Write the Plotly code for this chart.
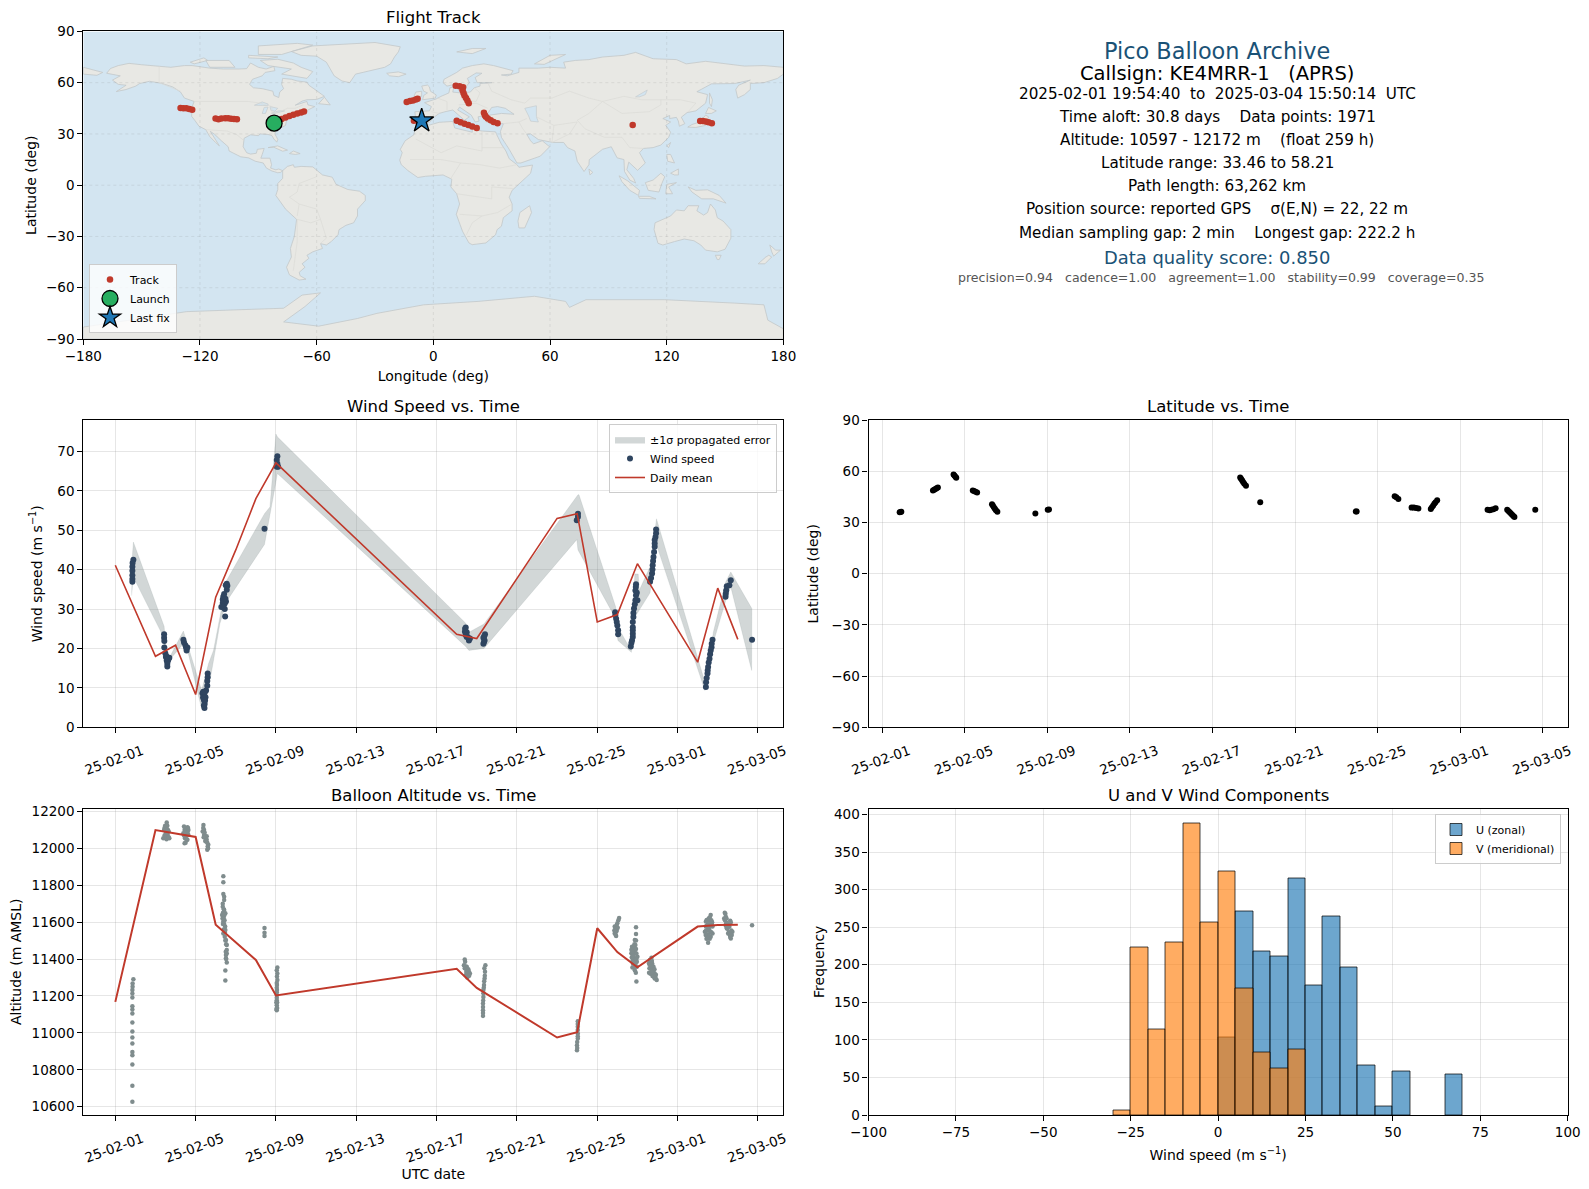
import pandas as pd
import plotly.graph_objects as go

W, H = 1589, 1189

# flight track (deg)
track_lon = [-130, -128.5, -127, -125.5, -124, -112, -110.5, -109, -107, -105.5, -104, -102.5, -101,
             -81.9, -80, -78, -76, -74, -72, -70, -68, -66.5,
             -13.7, -12, -10.5, -9, -8.1, 11.5, 13.5, 15.3, 15, 15.5, 16, 16.8, 17.5, 18.2,
             12, 14, 16, 18, 20, 22.3, 26, 26.5, 27, 28, 29.5, 31, 33,
             102.5, 137.2, 138.5, 140, 141.5, 143.2, -10, -8, -6]
track_lat = [45.2, 45.1, 45, 44.6, 44.2, 39, 38.6, 39, 39.2, 39.2, 38.9, 38.7, 38.6,
             36.3, 37.5, 38.8, 39.6, 40.5, 41.2, 42, 42.6, 43.2,
             48.7, 49.2, 49.6, 50.2, 50.6, 58.2, 57.9, 57.3, 55.5, 54, 52.5, 51, 49.5, 48,
             37.7, 36.9, 36, 35.2, 34.3, 33.4, 42.4, 41, 40, 39, 38, 37, 36.3,
             35.2, 37.5, 37.5, 37.3, 36.8, 36.2, 37.7, 37.7, 37.7]
launch_lon, launch_lat = [-81.9], [36.3]
last_lon, last_lat = [-6], [37.7]

# coastlines, rough (lon, lat)
north_america = [(-168, 65.5), (-166, 68.3), (-162, 70), (-156.5, 71.3), (-150, 70.5), (-141, 69.7), (-135, 69), (-128, 70),
                 (-124, 70), (-115, 68.5), (-108, 68), (-100, 68), (-96, 68.2), (-94, 71.5), (-90, 69), (-86, 68), (-82, 69.5),
                 (-81.5, 67), (-86.5, 66), (-88, 64), (-93, 62), (-94.5, 59), (-92.5, 57), (-88, 56.5), (-82.5, 55), (-82, 52.5),
                 (-79.5, 51.3), (-79, 54.5), (-77, 56.5), (-78, 59), (-77.5, 62.5), (-73, 62), (-70, 61), (-65, 60.3), (-64, 58.5),
                 (-61.5, 56.5), (-57, 53), (-56, 52), (-60, 50.2), (-65, 50), (-67.5, 49.2), (-71, 46.8), (-65, 49), (-64.5, 47),
                 (-61, 46), (-65, 43.7), (-70, 43.7), (-70.5, 41.7), (-74, 40.5), (-75.5, 38), (-76, 35), (-78, 33.8), (-81, 32),
                 (-81.5, 30), (-80, 26.8), (-80.5, 25.2), (-82, 27), (-83, 29), (-85, 29.7), (-89, 30), (-90, 29), (-94, 29.5),
                 (-97.3, 27.5), (-97.8, 22.5), (-96, 19), (-94, 18.2), (-91, 18.7), (-90.5, 21), (-87, 21.5), (-88, 18),
                 (-88.7, 15.8), (-84, 15.8), (-83.2, 12), (-83.7, 10), (-81, 9), (-79.5, 9.5), (-77.5, 8.5), (-78.5, 7.5), (-80, 7.3),
                 (-83, 8.3), (-85.8, 10), (-87.5, 13), (-91.5, 14), (-95, 16), (-99, 16.6), (-105, 20), (-105.5, 22.5), (-109, 26),
                 (-112.5, 29.8), (-114.7, 31.5), (-112, 27), (-110, 23), (-112, 25), (-115, 28.5), (-117, 32.5), (-120.5, 34.5),
                 (-122.5, 37.7), (-124.3, 40.3), (-124, 46), (-123, 49), (-128, 51), (-130, 54.5), (-134, 57.5), (-140, 59.7),
                 (-146, 60.8), (-151, 59.5), (-153, 58), (-158, 56), (-163, 54.8), (-158, 58.5), (-162, 59), (-165, 61.5), (-161, 64)]
greenland = [(-73, 78.2), (-68, 76), (-60, 75.5), (-55, 72), (-53, 68), (-51, 64), (-47, 61), (-43, 60), (-40, 65), (-34, 66.5),
             (-25, 69), (-22, 71), (-20, 75), (-18, 78), (-17, 81), (-30, 83.5), (-50, 82.5), (-62, 81.5)]
south_america = [(-77.5, 8.5), (-75, 11), (-72, 12), (-71.5, 10.5), (-68, 11), (-62, 10.7), (-57, 6), (-52, 4.7), (-50, 0.5), (-44, -2.5),
                 (-38, -3.5), (-35, -6), (-35, -9), (-39, -14), (-39, -18), (-41, -22), (-45, -23.5), (-48.5, -26), (-49, -29),
                 (-52.5, -33), (-55, -35), (-58, -34.2), (-57, -37), (-62, -39), (-65, -41), (-64, -42.8), (-67.5, -46), (-66, -48),
                 (-69, -51), (-68.5, -53), (-65.5, -55), (-69, -55.5), (-74, -52.5), (-75.5, -48), (-73, -42), (-73.5, -37),
                 (-71.5, -30), (-70.3, -20), (-76, -14), (-81, -6), (-80, -2.5), (-80, 1), (-77.5, 4), (-77.5, 7)]
africa = [(-6, 35.8), (-2, 35.2), (3, 36.8), (10, 37.3), (11, 33.5), (15, 32.3), (20, 31), (20, 32.8), (25, 31.7), (32, 31.2), (32.5, 29.8),
          (35, 24), (37.3, 20), (39, 15.5), (43, 12), (44, 10.5), (51, 11.8), (50, 7), (44, 1), (40.5, -3), (39, -7), (40.5, -11),
          (40.5, -15), (36, -19), (35, -24), (32.8, -26), (32, -29), (27, -33.8), (20, -34.8), (18.3, -33.8), (15, -27), (11.8, -17),
          (13.5, -11), (12, -5), (9, -1), (9.5, 3.5), (5, 6), (1, 5.8), (-4, 5.2), (-8, 4.5), (-13, 8.5), (-16.5, 12), (-17.3, 14.7),
          (-16, 19), (-17, 21), (-14.5, 26), (-10, 29.5), (-9.5, 33)]
eurasia = [(-9, 37), (-9.5, 43), (-2, 43.5), (-1, 46), (-4.5, 48.3), (1.5, 50.5), (4, 52), (8, 54), (8.5, 57), (10.5, 57.5), (10, 54.5),
           (14, 54), (19, 54.5), (21, 57), (24, 58), (24, 59.5), (30, 60), (22.5, 60), (21.5, 63), (25, 65.5), (22, 65.7), (17.5, 62.5),
           (18.5, 60), (16, 56.5), (13, 55.5), (11, 59), (7, 58), (5, 60), (5.5, 62), (12, 66), (15, 68.5), (20, 70), (26, 71), (31, 70),
           (41, 67), (40, 65), (35, 64.5), (38, 64), (44, 66), (44, 68.5), (54, 68.5), (60, 69), (68, 68.5), (67, 72), (73, 73),
           (80, 73.5), (87, 75), (98, 76), (104, 77.7), (113, 74), (125, 73.5), (130, 71), (140, 72.5), (152, 71), (160, 69.7), (170, 70),
           (180, 69), (180, 65), (177, 62.5), (170, 60), (163, 59.5), (163, 56), (160, 53), (156.5, 51), (155.5, 56), (157, 58.5),
           (163, 61.5), (155, 59.5), (143, 59.3), (135.5, 54.7), (141, 53), (140, 48), (135, 43.5), (130.5, 42.5), (127.5, 39.8),
           (129.3, 36), (126.5, 34.5), (126, 37.5), (125, 39.7), (121.5, 39), (121.5, 40.8), (118, 39), (122, 37), (119.5, 35), (122, 31),
           (121, 28), (117, 23.5), (113, 22), (108, 21.5), (106, 19), (109, 13), (105, 8.7), (100.5, 13.5), (99.5, 9), (103, 4), (104, 1.3),
           (101, 3), (98.3, 8), (98, 15), (94.5, 16), (91.5, 22.5), (87, 21), (80.2, 15), (80, 12), (77.5, 8), (74, 14), (72.8, 20), (69, 22),
           (67, 25), (61.5, 25), (57, 26), (54, 26.7), (50, 30), (48, 29.8), (50, 26), (51.5, 24.2), (56, 26), (59.8, 22.5), (55, 17),
           (45, 13), (43, 13), (39, 21), (35, 28), (34.5, 31.5), (36, 36), (32, 36), (27.5, 36.8), (26.5, 39.5), (29, 41), (35, 42),
           (41.5, 41.5), (37, 45), (33, 46), (30, 45.5), (28, 42), (26, 40.7), (23, 40), (23.5, 37.5), (21.5, 37), (19.5, 41), (13.5, 45.7),
           (12.5, 44), (16, 41.7), (18.5, 40), (16, 38), (12.5, 41.5), (10, 44), (6, 43), (3, 42), (0, 39.5), (-2, 36.8), (-5.5, 36)]
chukotka = [(-180, 69), (-175, 67.5), (-170, 66), (-173, 64.3), (-180, 65)]
australia = [(114, -22), (113.5, -26), (115.5, -34), (118, -35), (124, -33), (129, -31.5), (134, -32.5), (137.5, -35), (140, -38), (146, -39),
             (150, -37.5), (153, -31), (153, -26), (149, -21), (146, -19), (145, -14.5), (142.5, -11), (141, -16), (139, -17.5), (135.5, -15),
             (136.5, -12), (131, -12), (129, -15), (125, -14.5), (122, -18)]
antarctica = [(-180, -83), (-127, -74), (-103, -73), (-77, -72), (-67.5, -64.3), (-58, -63), (-66, -71), (-77, -80), (-59, -82.5), (-39, -78),
              (-29, -75), (-5, -70), (23, -68), (52, -65), (68, -68), (70, -71.5), (78.5, -67), (119, -67), (155, -69), (170, -70), (172, -79),
              (180, -84), (180, -90), (-180, -90)]
islands = [
    [(-80, 73.7), (-72, 71.5), (-68, 69), (-62, 66.5), (-65, 62.5), (-72, 64), (-78, 65), (-73, 68), (-85, 70), (-89, 73)],
    [(-117, 73), (-105, 73), (-102, 69), (-115, 69)],
    [(-90, 76.5), (-78, 76.5), (-62, 82), (-70, 83), (-90, 81.5)],
    [(-125, 72), (-118, 74.5), (-116, 73), (-123, 71)],
    [(-95, 76), (-80, 75), (-85, 74), (-95, 74.5)],
    [(-59, 47.7), (-56, 51.5), (-53, 47)],
    [(-85, 22), (-80, 23), (-75, 20.5), (-77.5, 19.9), (-82, 22.2)],
    [(-74, 18.5), (-72, 20), (-68.5, 18.5), (-71, 18)],
    [(-5.5, 50), (1, 51), (1.5, 52.8), (-1.5, 55), (-2, 57.5), (-3, 58.6), (-6, 58), (-5, 55), (-3, 54), (-5, 52.5)],
    [(-10, 52), (-6, 52), (-6, 55), (-9, 54.5)],
    [(-24, 65.5), (-18, 66.3), (-14, 65), (-18, 63.5), (-22.5, 64)],
    [(12, 78), (20, 80), (27, 80), (20, 77)],
    [(52, 71), (57, 70.7), (68, 76.5), (60, 76)],
    [(142, 54), (143.5, 50), (143, 46), (142, 48)],
    [(130.8, 34), (135, 33.8), (140, 35), (141.5, 40), (140, 41), (137, 37), (133, 35.5)],
    [(140, 42), (141.5, 45.5), (145.5, 43.5), (143, 42)],
    [(120, 23), (122, 25), (121, 22)],
    [(120, 18), (122, 18), (124, 13), (120.5, 14)],
    [(122, 7), (126, 9.5), (126, 6), (124, 6)],
    [(95.5, 5.5), (100, 2.5), (106, -3), (105.5, -6), (101, -3), (97, 2)],
    [(105.5, -6.5), (111, -6.5), (114.5, -8), (106, -7.7)],
    [(109, 1.5), (113, 3), (117, 7), (119, 5), (117.5, 1), (116, -4), (110.5, -3)],
    [(119.5, -5), (120, 0.5), (125, 1.5), (121, -1), (123, -5)],
    [(131, -1), (135, -3), (141, -2.7), (147, -6), (150.5, -10.5), (144, -8), (138, -8), (133, -4)],
    [(145, -41), (148, -41), (147, -43.5), (146, -43.5)],
    [(173, -35), (176, -38), (178.5, -38), (175, -41.5), (174, -39)],
    [(172.5, -41), (174, -42), (170.5, -46), (167, -46), (171, -42)],
    [(49.5, -12), (50.5, -16), (47, -25), (44, -25), (43.5, -21), (44.5, -16)],
    [(80, 9.5), (82, 7.5), (80.5, 6)],
]
lakes = [
    [(47, 45), (53, 46.5), (53, 40), (54, 37), (50, 37.5), (49, 40.5)],
    [(-92, 46.8), (-88, 48.7), (-85, 47.5), (-85, 46.6), (-88, 46.7)],
    [(-88, 42), (-87, 45.5), (-85, 45.7), (-86.3, 42)],
    [(-84, 46), (-80, 45), (-81.5, 43.3), (-83.5, 43.7)],
    [(-83, 41.7), (-79, 42.8), (-76.5, 43.5), (-79.5, 43.5), (-83, 42.3)],
    [(104, 51.7), (110, 55.7), (109, 53), (106, 51.7)],
]
borders = [
    [(-123, 49), (-95, 49), (-89, 48), (-83, 46), (-83, 42), (-79, 43), (-75, 45), (-71, 45), (-67, 47)],
    [(-141, 69.7), (-141, 60), (-130, 55)],
    [(-117, 32.5), (-106, 31.7), (-101, 29.5), (-97.3, 26)],
    [(-70, -18), (-69, -11), (-74, -7), (-70, -4), (-69, 1), (-60, 5)],
    [(-70, -20), (-70, -33), (-72, -50)],
    [(-58, -20), (-55, -31), (-58, -34)],
    [(-69, -11), (-60, -14), (-58, -20), (-63, -22), (-70, -20)],
    [(-9, 27), (4, 19), (12, 23), (25, 20), (25, 31.7)],
    [(25, 22), (36, 22)],
    [(-12, 15), (4, 15), (14, 13), (24, 12), (34, 10), (43, 12)],
    [(9, 4), (14, 13)],
    [(12, -5), (30, -8), (30, -1), (41, -2)],
    [(13.5, -17), (25, -18), (33, -16), (40.5, -11)],
    [(17, -29), (20, -22), (25, -18)],
    [(28, 60), (30, 55), (40, 50), (47, 48), (50, 51), (61, 51), (70, 55), (80, 51), (87, 49)],
    [(87, 49), (98, 52), (107, 50), (117, 50), (127, 50), (135, 48), (131, 43)],
    [(87, 49), (80, 42), (74, 38), (78, 33), (88, 28), (97, 28), (101, 22), (108, 21.5)],
    [(87, 49), (97, 42), (111, 43), (117, 47), (117, 50)],
    [(53, 40), (62, 35), (61, 25)],
    [(44, 37), (46, 33), (48, 30)],
    [(36, 36), (44, 37), (48, 39)],
    [(62, 35), (74, 37)],
    [(61, 25), (70, 30), (74, 37)],
    [(14, 54), (15, 50), (22, 49), (24, 54), (21, 57)],
    [(-1, 43), (3, 42)],
    [(2, 51), (7, 49), (7, 44)],
    [(13, 47), (22, 48), (28, 45)],
]
map_xticks = [-180, -120, -60, 0, 60, 120, 180]
map_yticks = [-90, -60, -30, 0, 30, 60, 90]

# wind speed, days after 2025-02-01 / m s-1
wind_days = [0.90, 0.86, 0.85, 0.85, 0.85, 0.85, 0.85,
             2.43, 2.43, 2.44, 2.44, 2.49, 2.52, 2.69, 2.56, 2.59, 2.59, 2.62, 2.55, 2.60, 2.65,
             3.39, 3.42, 3.49, 3.52, 3.59, 3.55,
             4.60, 4.60, 4.58, 4.58, 4.52, 4.34, 4.42, 4.37, 4.49, 4.42, 4.45, 4.44, 4.38, 4.46, 4.40, 4.47, 4.41,
             5.55, 5.58, 5.55, 5.38, 5.35, 5.51, 5.35, 5.28, 5.45, 5.45, 5.47, 5.40, 5.38, 5.48, 5.42, 5.50,
             7.43, 8.07, 8.04, 8.07, 8.04, 8.11,
             17.45, 17.41, 17.50, 17.50, 17.61, 17.66, 17.45, 17.55, 17.42,
             18.41, 18.33, 18.39, 18.33, 18.37, 18.36,
             23.04, 23.04, 22.98,
             24.89, 24.90, 24.94, 24.97, 25.00, 25.04, 25.04,
             25.67, 25.70, 25.73, 25.77, 25.77, 25.77, 25.77, 25.77, 25.80, 25.80, 25.83, 25.87, 25.90, 26.00, 25.93, 25.97, 25.90, 25.92, 25.93,
             26.63, 26.68, 26.73, 26.75, 26.76, 26.78, 26.80, 26.83, 26.86, 26.86, 26.86, 26.90, 26.93, 26.93,
             29.41, 29.42, 29.45, 29.49, 29.50, 29.52, 29.55, 29.59, 29.62, 29.65, 29.69, 29.70, 29.74,
             30.39, 30.40, 30.42, 30.45, 30.58, 30.65, 31.71]
wind_speed = [42.5, 41.7, 40.7, 39.7, 38.6, 37.6, 36.9,
              23.6, 22.7, 21.9, 20.2, 18.8, 17.8, 17.6, 16.9, 16.1, 15.4, 17.0, 18.0, 16.7, 17.3,
              22.2, 21.5, 20.8, 20.2, 20.2, 19.5,
              13.6, 12.7, 11.7, 10.5, 9.3, 8.6, 8.5, 7.6, 7.6, 6.8, 5.9, 4.9, 9.0, 9.0, 7.2, 6.8, 5.5,
              36.4, 35.9, 34.9, 33.2, 32.4, 31.9, 31.5, 30.5, 31.4, 30.0, 28.1, 31.8, 30.6, 32.6, 33.8, 36.0,
              50.4, 68.8, 67.8, 66.9, 66.1, 66.1,
              25.3, 24.2, 24.1, 22.9, 22.0, 22.5, 23.4, 22.9, 25.0,
              23.6, 22.7, 22.0, 21.2, 23.1, 21.6,
              54.2, 53.4, 52.5,
              29.2, 28.4, 27.5, 26.7, 25.8, 24.6, 23.6,
              20.5, 21.4, 22.0, 22.9, 23.7, 24.6, 25.4, 26.7, 28.0, 29.0, 30.1, 31.2, 32.2, 32.2, 33.5, 34.1, 34.7, 35.6, 36.3,
              36.9, 37.9, 39.0, 40.0, 41.1, 42.2, 43.2, 44.5, 45.8, 46.6, 47.5, 48.3, 49.2, 50.2,
              10.2, 11.4, 12.5, 13.6, 14.4, 15.3, 16.4, 17.4, 18.5, 19.5, 20.3, 21.2, 22.2,
              33.1, 33.9, 34.7, 35.8, 36.0, 37.3, 22.2]
# +/-1 sigma band edges
band_up_days = [0.81, 0.90, 2.43, 2.56, 2.69, 3.39, 3.64, 4.05, 4.30, 4.64, 4.89, 5.21, 5.55, 7.43, 7.70, 8.0, 8.07,
                17.45, 17.61, 18.36, 22.0, 23.04, 23.09, 24.92, 25.03, 25.50, 25.63, 25.74, 25.87, 26.04, 26.09, 26.66, 26.95,
                29.41, 29.57, 29.78, 30.40, 30.65, 31.70]
band_up = [40.7, 47.0, 25.6, 18.6, 17.6, 24.4, 20.3, 13.5, 9.3, 16.1, 19.5, 28.0, 37.3, 54.2, 55.9, 74.4, 73.7,
           26.4, 24.1, 26.2, 51.6, 59.0, 59.0, 30.5, 25.4, 21.2, 20.8, 23.7, 38.9, 38.9, 34.7, 41.1, 52.9,
           10.6, 16.1, 24.1, 36.9, 39.4, 30.1]
band_lo_days = [0.81, 0.90, 2.39, 2.53, 2.69, 3.39, 3.64, 4.30, 4.57, 5.21, 5.55, 7.43, 7.97, 8.07,
                17.45, 17.61, 18.36, 22.98, 23.04, 24.87, 25.03, 25.70, 25.87, 26.04, 26.63, 26.80, 26.93,
                29.25, 29.36, 29.62, 29.84, 30.40, 30.65, 31.69]
band_lo = [33.4, 38.1, 23.0, 15.3, 17.0, 21.2, 18.6, 4.6, 7.6, 26.3, 32.0, 46.4, 61.4, 64.4,
           20.5, 19.5, 20.0, 47.6, 45.0, 28.0, 22.0, 19.0, 28.0, 29.3, 34.1, 41.1, 46.6,
           11.0, 9.3, 16.1, 22.5, 32.2, 35.6, 14.4]
# daily mean, shared days
mean_days = [0, 2, 3, 4, 5, 6, 7, 8, 17, 18, 22, 23, 24, 25, 26, 29, 30, 31]
mean_wind = [41.1, 18.0, 20.8, 8.3, 33.0, 45.0, 58.0, 67.1, 23.6, 22.5, 53.0, 54.2, 26.7, 28.6, 41.5, 16.5, 35.3, 22.3]
mean_alt = [11168, 12099, 12080, 12062, 11586, 11490, 11395, 11203, 11347, 11244, 10975, 11004, 11567, 11438, 11355, 11576, 11585, 11586]

# latitude
lat_days = [0.85, 0.89, 0.93, 2.46, 2.52, 2.58, 2.64, 2.70, 3.46, 3.50, 3.55, 3.59, 4.39, 4.45, 4.52, 4.60,
            5.32, 5.36, 5.41, 5.46, 5.51, 5.58, 7.42, 8.02, 8.08, 17.34, 17.38, 17.43, 17.48, 17.54, 17.62, 18.31,
            22.94, 22.98, 24.82, 24.90, 25.00, 25.64, 25.75, 25.86, 25.97, 26.57, 26.62, 26.68, 26.74, 26.80, 26.88,
            29.32, 29.42, 29.50, 29.60, 29.71, 30.27, 30.33, 30.39, 30.45, 30.51, 30.57, 30.62, 31.63]
lat_values = [36.0, 36.2, 36.4, 48.8, 49.2, 49.7, 50.1, 50.6, 58.2, 57.6, 56.9, 56.3, 48.8, 48.6, 48.1, 47.6,
              40.8, 40.0, 39.0, 38.1, 37.3, 36.3, 35.3, 37.5, 37.7, 56.5, 55.7, 54.8, 53.8, 52.8, 51.6, 42.0,
              36.5, 36.5, 45.5, 44.8, 43.9, 38.8, 38.8, 38.6, 38.2, 38.0, 38.9, 39.9, 41.0, 42.0, 43.1,
              37.5, 37.3, 37.6, 37.9, 38.4, 37.6, 36.8, 36.1, 35.3, 34.6, 33.9, 33.3, 37.6]

# altitude
alt_days = [0.90, 0.86, 0.86, 0.85, 0.85, 0.85, 0.85, 0.85, 0.85, 0.85, 0.85, 0.85, 0.85, 0.85, 0.85, 0.85, 0.85, 0.85,
            2.56, 2.48, 2.43, 2.59, 2.39, 2.52, 2.69, 2.52, 2.66, 2.59,
            2.45, 2.50, 2.55, 2.60, 2.63, 2.45, 2.56, 2.48, 2.62, 2.55, 2.66,
            3.42, 3.59, 3.52, 3.39, 3.64, 3.47, 3.59, 3.45, 3.64,
            3.45, 3.50, 3.55, 3.42, 3.50, 3.60, 3.55, 3.47, 3.62, 3.50,
            4.39, 4.35, 4.47, 4.55, 4.63, 4.58, 4.42, 4.52,
            4.38, 4.42, 4.45, 4.50, 4.55, 4.58, 4.60, 4.40, 4.48, 4.62,
            5.38, 5.38, 5.38, 5.42, 5.35, 5.42, 5.32, 5.48, 5.38, 5.47, 5.38, 5.51, 5.55, 5.51, 5.55, 5.48, 5.48, 5.42, 5.38, 5.48, 5.45, 5.55, 5.51,
            5.35, 5.40, 5.36, 5.40, 5.34, 5.44, 5.36, 5.42, 5.40, 5.45, 5.48, 5.52, 5.55, 5.50, 5.52, 5.38, 5.44,
            7.43, 7.43, 7.43, 8.07, 8.07, 8.07, 8.05, 8.05, 8.04, 8.04, 8.04, 8.04,
            8.04, 8.05, 8.04, 8.04, 8.04, 8.04, 8.02, 8.06, 8.02, 8.06,
            17.40, 17.36, 17.50, 17.61, 17.45, 17.66, 17.53,
            17.42, 17.45, 17.50, 17.55, 17.58, 17.62, 17.40, 17.48,
            18.43, 18.41, 18.39, 18.36, 18.33, 18.33, 18.31, 18.31, 18.31,
            18.38, 18.40, 18.37, 18.35, 18.33, 18.32, 18.31, 18.31,
            23.03, 23.03, 23.03, 23.03, 22.99, 22.99,
            23.03, 23.03, 23.03, 23.00, 23.00,
            25.09, 25.00, 24.87, 24.97, 24.87, 24.94,
            25.05, 24.97, 24.90, 24.95, 24.92, 25.02, 24.85,
            25.93, 25.93, 25.87, 25.73, 25.87, 25.70, 26.00, 25.77, 25.97, 25.75, 25.92, 25.95, 25.80, 25.90, 25.83, 25.97,
            25.80, 25.85, 25.75, 25.95, 25.72, 25.82, 25.90, 25.95, 25.78, 25.90, 25.85, 25.78, 25.75, 25.87, 25.93, 25.93, 25.70, 25.85,
            26.70, 26.58, 26.80, 26.58, 26.86, 26.75, 26.96, 26.66, 26.86,
            26.62, 26.68, 26.74, 26.60, 26.72, 26.80, 26.85, 26.65, 26.75, 26.90, 26.92, 26.80, 26.72, 26.68, 26.60,
            29.65, 29.45, 29.62, 29.41, 29.74, 29.57, 29.36, 29.74, 29.49, 29.65, 29.52, 29.54, 29.41,
            29.50, 29.55, 29.60, 29.68, 29.45, 29.50, 29.60, 29.70, 29.42, 29.48, 29.55, 29.60, 29.68, 29.40, 29.72, 29.62, 29.44,
            30.35, 30.40, 30.62, 30.42, 30.45, 30.73, 30.52, 30.65, 30.32,
            30.38, 30.36, 30.44, 30.50, 30.40, 30.48, 30.58, 30.55, 30.60, 30.70, 30.68, 30.62, 30.45, 30.65, 31.71]
alt_values = [11290, 11268, 11250, 11232, 11214, 11192, 11145, 11127, 11105, 11056, 11007, 10975, 10942, 10897, 10879, 10828, 10714, 10627,
              12140, 12122, 12100, 12100, 12055, 12064, 12055, 12082, 12091, 12122,
              12110, 12095, 12110, 12075, 12060, 12070, 12125, 12060, 12100, 12050, 12060,
              12119, 12115, 12091, 12082, 12073, 12055, 12046, 12028, 12100,
              12100, 12110, 12075, 12070, 12060, 12085, 12045, 12085, 12110, 12030,
              12126, 12091, 12064, 12046, 12019, 11992, 12073, 12037,
              12110, 12100, 12085, 12055, 12065, 12030, 12010, 12060, 12040, 12000,
              11849, 11816, 11753, 11720, 11684, 11666, 11639, 11648, 11603, 11576, 11539, 11503, 11449, 11422, 11382, 11338, 11284, 11738, 11621, 11557, 11521, 11476, 11404,
              11700, 11670, 11650, 11630, 11620, 11610, 11590, 11590, 11560, 11545, 11500, 11480, 11430, 11440, 11400, 11650, 11640,
              11568, 11543, 11525, 11355, 11322, 11286, 11259, 11232, 11205, 11177, 11150, 11123,
              11340, 11305, 11270, 11245, 11220, 11190, 11165, 11135, 11130, 11165,
              11398, 11367, 11358, 11331, 11313, 11322, 11300,
              11385, 11360, 11340, 11320, 11345, 11310, 11350, 11330,
              11366, 11331, 11295, 11259, 11232, 11195, 11159, 11123, 11092,
              11350, 11310, 11280, 11245, 11215, 11175, 11140, 11108,
              11063, 11033, 10996, 10969, 10933, 10906,
              11048, 11015, 10982, 10950, 10918,
              11623, 11594, 11576, 11558, 11539, 11525,
              11610, 11585, 11565, 11550, 11530, 11570, 11555,
              11572, 11536, 11503, 11467, 11449, 11431, 11413, 11395, 11359, 11355, 11326, 11279, 11422, 11476, 11377, 11386,
              11460, 11440, 11440, 11430, 11410, 11410, 11400, 11400, 11375, 11375, 11355, 11420, 11385, 11340, 11500, 11455, 11450, 11480,
              11407, 11377, 11358, 11326, 11322, 11308, 11286, 11349, 11295,
              11395, 11385, 11375, 11350, 11340, 11335, 11345, 11320, 11330, 11300, 11315, 11305, 11390, 11360, 11370,
              11639, 11612, 11603, 11576, 11576, 11558, 11548, 11539, 11512, 11521, 11489, 11585, 11603,
              11600, 11620, 11625, 11610, 11580, 11560, 11575, 11590, 11555, 11535, 11530, 11510, 11545, 11530, 11600, 11550, 11510,
              11651, 11630, 11608, 11594, 11567, 11548, 11539, 11512, 11620,
              11645, 11610, 11620, 11590, 11580, 11565, 11575, 11545, 11530, 11530, 11555, 11520, 11595, 11600, 11583]

# histograms, 5 m/s bins
u_bin_starts = [0, 5, 10, 15, 20, 25, 30, 35, 40, 45, 50, 65]
u_counts = [103, 271, 217, 211, 315, 172, 264, 196, 66, 11, 58, 54]
v_bin_starts = [-30, -25, -20, -15, -10, -5, 0, 5, 10, 15, 20]
v_counts = [6, 223, 114, 230, 388, 256, 324, 168, 83, 62, 87]
bin_width = 5

# summary text
summary_lines = [
    ("Pico Balloon Archive", 1217, 50.7, 22.4, "#1a5276"),
    ("Callsign: KE4MRR-1   (APRS)", 1217, 73.0, 19.5, "#000000"),
    ("2025-02-01 19:54:40  to  2025-03-04 15:50:14  UTC", 1217, 94.2, 15.2, "#000000"),
    ("Time aloft: 30.8 days    Data points: 1971", 1217, 117.5, 15.2, "#000000"),
    ("Altitude: 10597 - 12172 m    (float 259 h)", 1217, 140.4, 15.2, "#000000"),
    ("Latitude range: 33.46 to 58.21", 1217, 163.2, 15.2, "#000000"),
    ("Path length: 63,262 km", 1217, 186.5, 15.2, "#000000"),
    ("Position source: reported GPS    σ(E,N) = 22, 22 m", 1217, 209.3, 15.2, "#000000"),
    ("Median sampling gap: 2 min    Longest gap: 222.2 h", 1217, 233.0, 15.2, "#000000"),
    ("Data quality score: 0.850", 1217, 257.4, 17.9, "#1a5276"),
    ("precision=0.94   cadence=1.00   agreement=1.00   stability=0.99   coverage=0.35", 1221, 277.7, 12.55, "#555555"),
]

RED = "#c0392b"
SLATE = "#2f4560"
GREY = "#7f8c8d"
FONT = "DejaVu Sans"
GRID = "rgba(128,128,128,0.2)"


def to_time(days):
    return pd.Timestamp("2025-02-01") + pd.to_timedelta(days, unit="D")


def closed_path(shapes):
    xs, ys = [], []
    for shape in shapes:
        xs += [p[0] for p in shape] + [shape[0][0], None]
        ys += [p[1] for p in shape] + [shape[0][1], None]
    return xs, ys


def open_path(lines):
    xs, ys = [], []
    for line in lines:
        xs += [p[0] for p in line] + [None]
        ys += [p[1] for p in line] + [None]
    return xs, ys


def dx(px):
    return px / W


def dy(py):
    return 1 - py / H


fig = go.Figure()

# map
fig.add_shape(type="rect", xref="x", yref="y", x0=-180, x1=180, y0=-90, y1=90,
              fillcolor="#d3e5f1", line_width=0, layer="below")
land_x, land_y = closed_path([north_america, greenland, south_america, africa, eurasia, chukotka,
                              australia, antarctica] + islands)
fig.add_trace(go.Scatter(x=land_x, y=land_y, mode="lines", fill="toself", fillcolor="#e8e8e4",
                         line=dict(color="#c3c8c9", width=0.8), showlegend=False, hoverinfo="skip",
                         xaxis="x", yaxis="y"))
lake_x, lake_y = closed_path(lakes)
fig.add_trace(go.Scatter(x=lake_x, y=lake_y, mode="lines", fill="toself", fillcolor="#d3e5f1",
                         line=dict(color="#c3c8c9", width=0.6), showlegend=False, hoverinfo="skip",
                         xaxis="x", yaxis="y"))
border_x, border_y = open_path(borders)
fig.add_trace(go.Scatter(x=border_x, y=border_y, mode="lines", line=dict(color="#dbdbd7", width=0.7),
                         showlegend=False, hoverinfo="skip", xaxis="x", yaxis="y"))
# grid sits on top of the land here
grid_lines = [[(t, -90), (t, 90)] for t in map_xticks[1:-1]] + [[(-180, t), (180, t)] for t in map_yticks[1:-1]]
grid_x, grid_y = open_path(grid_lines)
fig.add_trace(go.Scatter(x=grid_x, y=grid_y, mode="lines", line=dict(color="rgba(128,128,128,0.2)", width=0.8, dash="dot"),
                         showlegend=False, hoverinfo="skip", xaxis="x", yaxis="y"))
fig.add_trace(go.Scatter(x=track_lon, y=track_lat, mode="markers", name="Track",
                         marker=dict(color=RED, size=6.5), xaxis="x", yaxis="y", legend="legend"))
fig.add_trace(go.Scatter(x=launch_lon, y=launch_lat, mode="markers", name="Launch",
                         marker=dict(color="#27ae60", size=16, line=dict(color="black", width=1.3)),
                         xaxis="x", yaxis="y", legend="legend"))
fig.add_trace(go.Scatter(x=last_lon, y=last_lat, mode="markers", name="Last fix",
                         marker=dict(color="#1f77b4", size=18, symbol="star", line=dict(color="black", width=1.3)),
                         xaxis="x", yaxis="y", legend="legend"))

# wind speed
band_x = [to_time(d) for d in band_up_days] + [to_time(d) for d in reversed(band_lo_days)]
band_y = band_up + band_lo[::-1]
fig.add_trace(go.Scatter(x=band_x, y=band_y, mode="lines", fill="toself", fillcolor="rgba(127,140,141,0.35)",
                         line=dict(color="rgba(127,140,141,0.15)", width=1), name="±1σ propagated error",
                         xaxis="x2", yaxis="y2", legend="legend2"))
fig.add_trace(go.Scatter(x=[to_time(d) for d in wind_days], y=wind_speed, mode="markers", name="Wind speed",
                         marker=dict(color=SLATE, size=6), xaxis="x2", yaxis="y2", legend="legend2"))
fig.add_trace(go.Scatter(x=[to_time(d) for d in mean_days], y=mean_wind, mode="lines", name="Daily mean",
                         line=dict(color=RED, width=1.6), xaxis="x2", yaxis="y2", legend="legend2"))

# latitude
fig.add_trace(go.Scatter(x=[to_time(d) for d in lat_days], y=lat_values, mode="markers",
                         marker=dict(color="black", size=6), showlegend=False, xaxis="x3", yaxis="y3"))

# altitude
fig.add_trace(go.Scatter(x=[to_time(d) for d in alt_days], y=alt_values, mode="markers",
                         marker=dict(color=GREY, size=4.5), showlegend=False, xaxis="x4", yaxis="y4"))
fig.add_trace(go.Scatter(x=[to_time(d) for d in mean_days], y=mean_alt, mode="lines",
                         line=dict(color=RED, width=2), showlegend=False, xaxis="x4", yaxis="y4"))

# u, v histogram
fig.add_trace(go.Bar(x=[s + bin_width / 2 for s in u_bin_starts], y=u_counts, width=bin_width, name="U (zonal)",
                     marker=dict(color="rgba(31,119,180,0.65)", line=dict(color="rgba(0,0,0,0.7)", width=1)),
                     xaxis="x5", yaxis="y5", legend="legend3"))
fig.add_trace(go.Bar(x=[s + bin_width / 2 for s in v_bin_starts], y=v_counts, width=bin_width, name="V (meridional)",
                     marker=dict(color="rgba(255,127,14,0.65)", line=dict(color="rgba(0,0,0,0.7)", width=1)),
                     xaxis="x5", yaxis="y5", legend="legend3"))

left_col = [dx(83.3), dx(783.4)]
right_col = [dx(868.5), dx(1567.7)]
rows = [(31.4, 339), (420.3, 727.2), (808.5, 1115)]
tick_font = dict(family=FONT, size=13.5, color="black")
title_font = dict(family=FONT, size=14, color="black")
legend_font = dict(family=FONT, size=11)
axis_style = dict(showline=True, mirror=True, linecolor="black", linewidth=1.1, ticks="outside", ticklen=5,
                  tickwidth=1, tickcolor="black", tickfont=tick_font, gridcolor=GRID, gridwidth=1.1, zeroline=False,
                  automargin=False)
date_style = dict(type="date", tick0="2025-02-01", dtick=4 * 86400000, tickformat="%y-%m-%d", tickangle=-20,
                  ticklabelshift=27, ticklabelstandoff=5)

fig.update_layout(
    width=W, height=H, margin=dict(l=0, r=0, t=0, b=0), paper_bgcolor="white", plot_bgcolor="white",
    font=dict(family=FONT, color="black"), barmode="overlay", bargap=0,
    xaxis=dict(domain=left_col, anchor="y", range=[-180, 180], tickvals=map_xticks, showgrid=False,
               title=dict(text="Longitude (deg)", font=title_font, standoff=7), **axis_style),
    yaxis=dict(domain=[dy(rows[0][1]), dy(rows[0][0])], anchor="x", range=[-90, 90], tickvals=map_yticks, showgrid=False,
               title=dict(text="Latitude (deg)", font=title_font, standoff=6), **axis_style),
    xaxis2=dict(domain=left_col, anchor="y2", range=[to_time(-1.594), to_time(33.27)], **date_style, **axis_style),
    yaxis2=dict(domain=[dy(rows[1][1]), dy(rows[1][0])], anchor="x2", range=[0, 77.9], dtick=10,
                title=dict(text="Wind speed (m s<sup>−1</sup>)", font=title_font, standoff=11), **axis_style),
    xaxis3=dict(domain=right_col, anchor="y3", range=[to_time(-0.66), to_time(33.2)], **date_style, **axis_style),
    yaxis3=dict(domain=[dy(rows[1][1]), dy(rows[1][0])], anchor="x3", range=[-90, 90], dtick=30,
                title=dict(text="Latitude (deg)", font=title_font, standoff=9), **axis_style),
    xaxis4=dict(domain=left_col, anchor="y4", range=[to_time(-1.594), to_time(33.27)],
                title=dict(text="UTC date", font=title_font, standoff=0), **date_style, **axis_style),
    yaxis4=dict(domain=[dy(rows[2][1]), dy(rows[2][0])], anchor="x4", range=[10555, 12216], dtick=200, tickformat="d",
                title=dict(text="Altitude (m AMSL)", font=title_font, standoff=6), **axis_style),
    xaxis5=dict(domain=right_col, anchor="y5", range=[-100, 100], dtick=25,
                title=dict(text="Wind speed (m s<sup>−1</sup>)", font=title_font, standoff=10), **axis_style),
    yaxis5=dict(domain=[dy(rows[2][1]), dy(rows[2][0])], anchor="x5", range=[0, 408], dtick=50,
                title=dict(text="Frequency", font=title_font, standoff=6), **axis_style),
    legend=dict(x=dx(89), y=dy(333), xanchor="left", yanchor="bottom", bgcolor="rgba(255,255,255,0.8)",
                bordercolor="#cccccc", borderwidth=1, font=legend_font, itemsizing="trace"),
    legend2=dict(x=dx(777), y=dy(424), xanchor="right", yanchor="top", bgcolor="rgba(255,255,255,0.8)",
                 bordercolor="#cccccc", borderwidth=1, font=legend_font),
    legend3=dict(x=dx(1561), y=dy(814), xanchor="right", yanchor="top", bgcolor="rgba(255,255,255,0.8)",
                 bordercolor="#cccccc", borderwidth=1, font=legend_font),
)

# panel titles
panel_titles = [("Flight Track", left_col, rows[0][0]), ("Wind Speed vs. Time", left_col, rows[1][0]),
                ("Latitude vs. Time", right_col, rows[1][0]), ("Balloon Altitude vs. Time", left_col, rows[2][0]),
                ("U and V Wind Components", right_col, rows[2][0])]
for text, col, top in panel_titles:
    fig.add_annotation(text=text, x=sum(col) / 2, y=dy(top - 2), xref="paper", yref="paper", xanchor="center",
                       yanchor="bottom", showarrow=False, font=dict(family=FONT, size=16.5, color="black"))

for text, xpos, ypos, size, color in summary_lines:
    fig.add_annotation(text=text, x=dx(xpos), y=dy(ypos), xref="paper", yref="paper", xanchor="center", yanchor="middle",
                       showarrow=False, font=dict(family=FONT, size=size, color=color))

fig.write_html("out.html", config={"displayModeBar": False}, post_script="document.body.style.margin='0';")
